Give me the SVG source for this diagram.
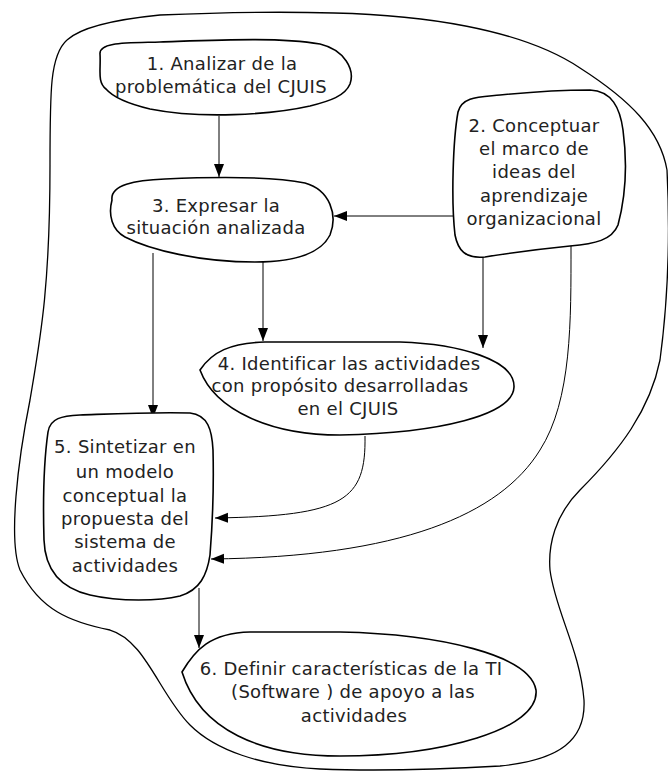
<svg xmlns="http://www.w3.org/2000/svg" width="668" height="772" viewBox="0 0 668 772">
<style>
.node path{fill:#fff;stroke:#000;stroke-width:1.6}
.node text{font-family:"DejaVu Sans",Verdana,sans-serif;font-size:18px;fill:#222;text-anchor:middle;letter-spacing:0.3px}
.boundary{fill:none;stroke:#000;stroke-width:1.3}
.conn path{fill:none;stroke:#000;stroke-width:1}
</style>
<defs>
<marker id="arr" markerUnits="userSpaceOnUse" markerWidth="14" markerHeight="12" refX="13" refY="5" orient="auto">
<path d="M0,0 L13,5 L0,10 z" fill="#000"/>
</marker>
</defs>
<path class="boundary" d="M 50 165 C 50 90, 50 55, 67 40 C 80 28, 110 20, 160 15 C 230 12, 300 12, 334 13 C 420 15, 520 28, 580 68 C 630 100, 660 130, 667 170 C 670 230, 668 300, 660 360 C 650 410, 620 450, 580 490 C 555 515, 548 545, 550 570 C 555 610, 580 650, 584 700 C 586 740, 560 760, 500 766 C 430 770, 370 771, 320 769 C 260 766, 215 750, 190 725 C 160 695, 145 640, 110 630 C 70 622, 40 610, 20 570 C 8 540, 18 460, 30 400 C 40 340, 50 290, 50 165 Z"/>
<g class="conn">
<path d="M 219 116 L 219 177" marker-end="url(#arr)"/>
<path d="M 454 216 L 334 216" marker-end="url(#arr)"/>
<path d="M 483 257 L 483 348" marker-end="url(#arr)"/>
<path d="M 263 261 L 263 341" marker-end="url(#arr)"/>
<path d="M 153 253 L 153 418" marker-end="url(#arr)"/>
<path d="M 365 436 C 366 500, 345 516, 215 518" marker-end="url(#arr)"/>
<path d="M 571 245 C 571 320, 572 400, 540 450 C 500 515, 400 557, 211 559" marker-end="url(#arr)"/>
<path d="M 199 588 L 199 648" marker-end="url(#arr)"/>
</g>
<g id="node1" class="node">
<path d="M 100 54 C 99 42, 125 43, 160 42 C 220 40, 280 37, 320 44 C 345 50, 355 70, 350 84 C 345 96, 330 101, 310 106 C 270 115, 200 119, 150 109 C 125 103, 112 96, 106 89 C 97 82, 101 70, 100 54 Z"/>
<text x="222" y="70">1. Analizar de la</text>
<text x="221" y="93">problemática del CJUIS</text>
</g>
<g id="node2" class="node">
<path d="M 458 112 C 462 96, 480 97, 500 95 C 530 92, 560 90, 590 90 C 612 91, 620 108, 623 130 C 627 160, 626 195, 618 225 C 612 240, 595 244, 570 246 C 540 249, 510 253, 485 257 C 465 259, 458 250, 455 235 C 451 200, 453 140, 458 112 Z"/>
<text x="534" y="132">2. Conceptuar</text>
<text x="534" y="155">el marco de</text>
<text x="534" y="178">ideas del</text>
<text x="534" y="202">aprendizaje</text>
<text x="534" y="225">organizacional</text>
</g>
<g id="node3" class="node">
<path d="M 112 200 C 110 185, 135 180, 165 179 C 210 177, 270 176, 305 183 C 330 190, 338 215, 330 235 C 320 255, 290 262, 255 262 C 200 262, 150 250, 125 237 C 112 230, 108 215, 112 200 Z"/>
<text x="216" y="212">3. Expresar la</text>
<text x="216" y="234">situación analizada</text>
</g>
<g id="node4" class="node">
<path d="M 200 370 C 212 352, 230 343, 265 342 L 400 342 C 460 344, 515 360, 514 387 C 513 415, 440 433, 340 435 C 270 435, 215 410, 200 370 Z"/>
<text x="349" y="370">4. Identificar las actividades</text>
<text x="340" y="392">con propósito desarrolladas</text>
<text x="348" y="415">en el CJUIS</text>
</g>
<g id="node5" class="node">
<path d="M 48 432 C 50 418, 62 416, 80 415 C 110 414, 150 412, 190 413 C 208 415, 212 430, 213 450 C 214 490, 212 530, 210 555 C 207 575, 200 590, 180 596 C 160 601, 120 602, 90 595 C 60 588, 45 570, 44 540 C 43 505, 44 460, 48 432 Z"/>
<text x="125" y="453">5. Sintetizar en</text>
<text x="125" y="478">un modelo</text>
<text x="125" y="502">conceptual la</text>
<text x="125" y="525">propuesta del</text>
<text x="125" y="548">sistema de</text>
<text x="125" y="572">actividades</text>
</g>
<g id="node6" class="node">
<path d="M 182 672 C 195 650, 210 633, 250 632 L 340 632 C 440 634, 530 655, 536 690 C 540 730, 440 756, 340 756 C 260 756, 200 730, 182 672 Z"/>
<text x="351" y="675">6. Definir características de la TI</text>
<text x="353" y="698">(Software ) de apoyo a las</text>
<text x="354" y="722">actividades</text>
</g>
</svg>
